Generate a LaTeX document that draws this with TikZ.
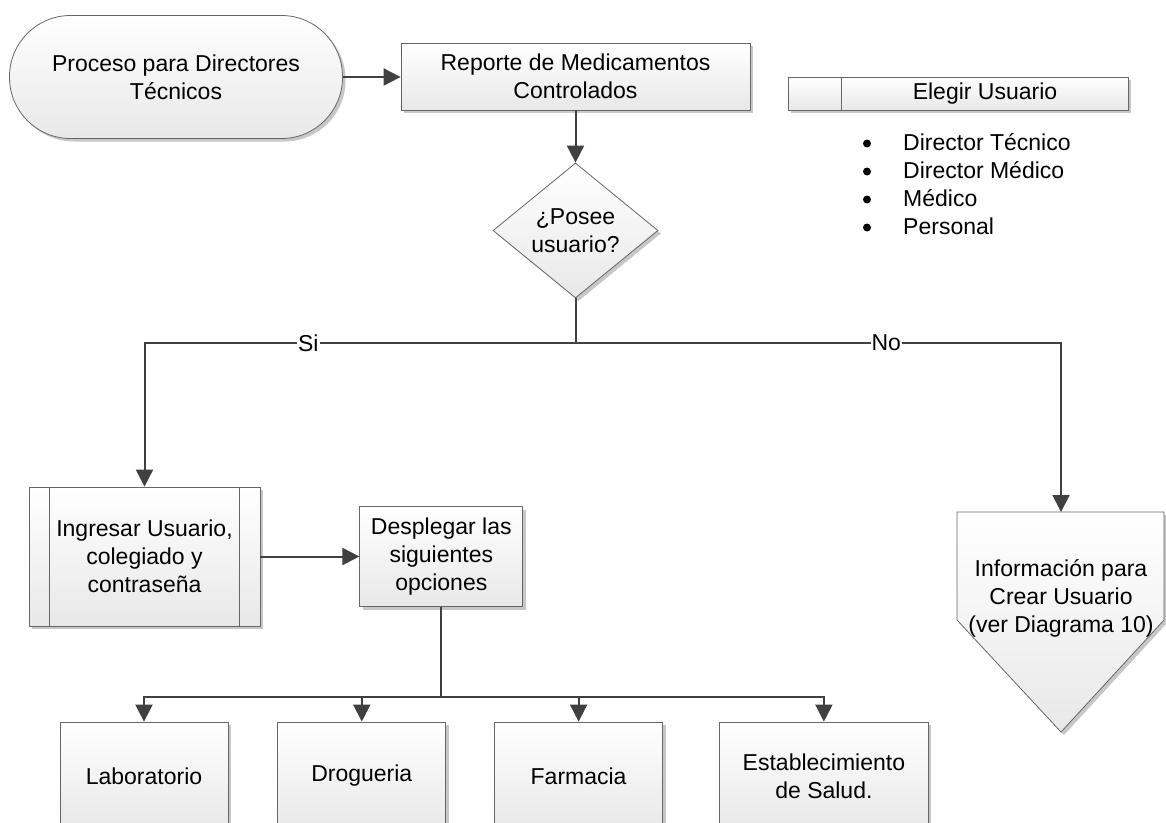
\documentclass[tikz,border=0pt]{standalone}
\usepackage{fontspec}
\setmainfont{Liberation Sans}
\usetikzlibrary{
  positioning,
  shapes.geometric,
  arrows.meta,
  shadows
}
\tikzset{
  shapebox/.style={
    draw=black!60, line width=0.8pt,
    top color=white, bottom color=black!9,
    drop shadow={shadow xshift=3pt,shadow yshift=-3pt,fill=black!22,opacity=1}
  },
  stepbox/.style={shapebox, rectangle, align=center, inner sep=2pt},
  terminal/.style={stepbox, rounded corners=61pt, minimum width=333pt, minimum height=123pt},
  decision/.style={shapebox, diamond, align=center, inner sep=0pt, minimum width=165pt, minimum height=135pt},
  option/.style={stepbox, minimum width=168pt, minimum height=108pt},
  divider/.style={draw=black!60, line width=0.8pt},
  line/.style={draw=black!75, line width=2pt},
  conn/.style={line, -{Triangle[length=17pt,width=17pt]}},
  lbl/.style={fill=white, inner sep=1pt}
}

\begin{document}
\begin{tikzpicture}[x=1pt,y=-1pt,font=\fontsize{23}{28}\selectfont]
  \clip (0,0) rectangle (1166,822);
  % top row
  \node (start) [terminal] at (176,77) {Proceso para Directores\\Técnicos};
  \node (rep) [stepbox,minimum width=349pt,minimum height=67pt] at (575.5,76.5) {Reporte de Medicamentos\\Controlados};
  \node (dec) [decision] at (575.5,230.5) {¿Posee\\usuario?};
  \node (elg) [stepbox,minimum width=340pt,minimum height=33pt] at (958,93.5) {\hspace*{54pt}Elegir Usuario};
  \draw [divider] ([xshift=54pt]elg.north west) -- ([xshift=54pt]elg.south west);
  % user list
  \foreach \u [count=\i] in {Director Técnico,Director Médico,Médico,Personal} {
    \node (usr\i) [anchor=base west,inner sep=0pt] at (903,122+28*\i) {\u};
    \fill ([xshift=-36pt,yshift=6.5pt]usr\i.base west) circle (4pt);
  }
  % left branch
  \node (ing) [stepbox,minimum width=231pt,minimum height=139pt] at (144.5,556.5) {Ingresar Usuario,\\colegiado y\\contraseña};
  \draw [divider] ([xshift=21pt]ing.north west) -- ([xshift=21pt]ing.south west);
  \draw [divider] ([xshift=-21pt]ing.north east) -- ([xshift=-21pt]ing.south east);
  \node (dsp) [stepbox,minimum width=163pt,minimum height=100pt,right=99pt of ing] {Desplegar las\\siguientes\\opciones};
  \node (lab) [option] at (144,776) {Laboratorio};
  \node (drog) [option,right=49pt of lab] {Drogueria};
  \node (farm) [option,right=48pt of drog] {Farmacia};
  \node (est) [option,minimum width=209pt,right=56pt of farm] {Establecimiento\\de Salud.};
  % right branch (off-page)
  \path [shapebox] (957,512) -- (1164,512) -- (1164,620) -- (1061,732) -- (957,620) -- cycle;
  \coordinate (infotop) at (1061,512);
  \node (info) [align=center] at (1061,598) {Información para\\Crear Usuario\\(ver Diagrama 10)};
  % connectors
  \draw [conn] (start.east) -- (start.east -| rep.west);
  \draw [conn] (rep) -- (dec);
  \coordinate (split) at (575.5,343);
  \draw [line] (dec.south) -- (split);
  \draw [conn] (split) -| node [lbl,pos=0.31] {Si} (ing.north);
  \draw [conn] (split) -| node [lbl,pos=0.32] {No} (infotop);
  \draw [conn] (ing) -- (dsp);
  \path (dsp.south) ++(0,90) coordinate (fork);
  \foreach \opt in {lab,drog,farm,est}
    \draw [conn] (dsp.south) -- (fork) -| (\opt.north);
\end{tikzpicture}
\end{document}
